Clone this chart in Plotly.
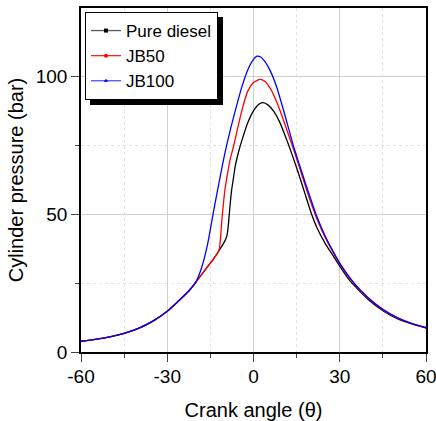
import plotly.graph_objects as go

# ---- data ----
x_common = [-60, -55, -50, -45, -40, -35, -30, -25, -22, -20]
y_common = [3.9, 4.6, 5.5, 6.8, 8.6, 11.2, 14.8, 19.6, 22.8, 25.5]

x_diesel = x_common + [-18, -16, -14, -12, -10, -9.3, -8.8, -8.2, -7.6, -7, -6.4, -5, -4, -2, 0, 2, 3.4,
                       5, 7, 9, 11, 12.3, 14, 16, 18, 20, 22, 25, 28, 30, 33, 35, 40, 45, 50, 55, 60]
y_diesel = y_common + [28.2, 31.0, 33.7, 36.8, 40.3, 42.0, 45.6, 52.8, 58.9, 63.0, 67.3, 73.5, 77.0, 83.3, 87.6, 90.1, 90.6,
                       89.8, 87.5, 83.8, 78.6, 75.0, 70.0, 63.8, 57.2, 50.7, 45.3, 39.3, 34.5, 31.2, 26.6, 24.2, 19.0, 15.0, 12.1, 10.2, 8.8]

x_jb50 = x_common + [-18, -16, -14, -12, -11, -10, -9, -8, -7, -6, -4, -2, 0, 2.3,
                     4, 6, 8, 10, 12, 14, 16, 18, 20, 22, 25, 28, 30, 35, 40, 45, 50, 55, 60]
y_jb50 = y_common + [28.2, 31.0, 33.7, 37.0, 48.0, 58.5, 65.0, 70.5, 74.5, 79.0, 88.0, 94.8, 97.9, 99.1,
                     98.3, 95.5, 91.0, 85.5, 79.5, 73.5, 67.0, 60.5, 54.2, 48.5, 41.4, 35.6, 32.0, 24.8, 19.4, 15.3, 12.4, 10.3, 8.8]

x_jb100 = x_common + [-18, -16, -14, -12, -10, -8, -6, -4, -2, 0, 1.2, 2.5,
                      4, 6, 8, 10, 12, 14, 16, 18, 20, 22, 25, 28, 30, 35, 40, 45, 50, 55, 60]
y_jb100 = y_common + [30.8, 39.0, 50.5, 61.5, 72.0, 81.0, 89.0, 96.5, 102.5, 106.3, 107.5, 107.2,
                      105.5, 101.8, 96.5, 89.5, 82.0, 74.5, 68.0, 61.5, 55.3, 49.3, 42.0, 36.0, 32.3, 25.0, 19.6, 15.5, 12.5, 10.4, 8.8]

series = [
    ("Pure diesel", x_diesel, y_diesel, "#000000", "#5a5a5a", "square"),
    ("JB50", x_jb50, y_jb50, "#ff0000", "#ff2020", "circle"),
    ("JB100", x_jb100, y_jb100, "#0000ff", "#5050ff", "triangle-up"),
]

x_ticks = [-60, -30, 0, 30, 60]
x_tick_labels = ["-60", "-30", "0", "30", "60"]
y_ticks = [0, 50, 100]
y_tick_labels = ["0", "50", "100"]

FONT = "Liberation Sans, Arial, Helvetica, sans-serif"

fig = go.Figure()
for name, xs, ys, col, lcol, sym in series:
    fig.add_trace(go.Scatter(x=xs, y=ys, mode="lines", line=dict(color=col, width=1.3, shape="spline", smoothing=0.6),
                             showlegend=False, hoverinfo="skip"))
for name, xs, ys, col, lcol, sym in series:
    fig.add_trace(go.Scatter(x=[None], y=[None], mode="lines+markers", name=name,
                             line=dict(color=lcol, width=1.3),
                             marker=dict(symbol=sym, size=4, color=col)))

W, H = 436, 421
L, R, T, B = 81, 10, 8, 69
pw, ph = W - L - R, H - T - B

def px_to_paper(px, py):
    return (px - L) / pw, (H - B - py) / ph

# legend shadow (offset ~5px right/down of the legend box)
sx0, sy0 = px_to_paper(90, 17)
sx1, sy1 = px_to_paper(223, 105)
fig.add_shape(type="rect", xref="paper", yref="paper", x0=sx0, x1=sx1, y0=sy1, y1=sy0,
              fillcolor="black", line=dict(width=0), layer="above")

lx, ly = px_to_paper(85, 12)

fig.update_layout(
    width=W, height=H,
    margin=dict(l=L, r=R, t=T, b=B),
    paper_bgcolor="white", plot_bgcolor="white",
    font=dict(family=FONT, size=19, color="black"),
    legend=dict(x=lx, y=ly, xanchor="left", yanchor="top",
                bgcolor="white", bordercolor="black", borderwidth=1,
                font=dict(size=17, family=FONT), tracegroupgap=0, itemwidth=30),
    xaxis=dict(range=[-60, 60], tickvals=x_ticks, ticktext=x_tick_labels,
               ticks="outside", ticklen=8, tickwidth=1.3,
               ticklabelstandoff=-2, ticklabeloverflow="allow", automargin=False,
               showline=True, linecolor="black", linewidth=1.5, mirror=True,
               showgrid=True, gridcolor="#d0d0d0", gridwidth=1, zeroline=False,
               minor=dict(tickvals=[-45, -15, 15, 45], ticks="outside", ticklen=4, tickwidth=1.3,
                          showgrid=True, gridcolor="#e2e2e2", griddash="dot", gridwidth=1),
               title=dict(text="Crank angle (θ)", font=dict(size=20), standoff=22)),
    yaxis=dict(range=[0, 125], tickvals=y_ticks, ticktext=y_tick_labels,
               ticks="outside", ticklen=8, tickwidth=1.3,
               ticklabeloverflow="allow", automargin=False,
               showline=True, linecolor="black", linewidth=1.5, mirror=True,
               showgrid=True, gridcolor="#d0d0d0", gridwidth=1, zeroline=False,
               minor=dict(tickvals=[25, 75], ticks="outside", ticklen=4, tickwidth=1.3,
                          showgrid=True, gridcolor="#e2e2e2", griddash="dot", gridwidth=1),
               title=dict(text="Cylinder pressure (bar)", font=dict(size=20), standoff=7)),
)

# remove the default 8px page margin so the figure fills the window exactly
fig.write_html("out.html", config={"displayModeBar": False},
               post_script="document.body.style.margin='0';")
